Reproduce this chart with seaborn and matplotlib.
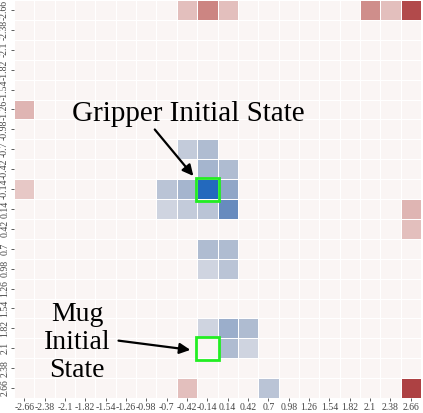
import numpy as np
import pandas as pd
import seaborn as sns
import matplotlib.pyplot as plt
from matplotlib.patches import Rectangle

# axis positions (same on x and y)
ticks = [-2.66, -2.38, -2.1, -1.82, -1.54, -1.26, -0.98, -0.7, -0.42, -0.14,
         0.14, 0.42, 0.7, 0.98, 1.26, 1.54, 1.82, 2.1, 2.38, 2.66]
tick_labels = ['-2.66', '-2.38', '-2.1', '-1.82', '-1.54', '-1.26', '-0.98', '-0.7', '-0.42', '-0.14',
               '0.14', '0.42', '0.7', '0.98', '1.26', '1.54', '1.82', '2.1', '2.38', '2.66']

# non-zero cells (y, x, value); everything else is 0
cell_y = [-2.66, -2.66, -2.66, -2.66, -2.66, -2.66,
          -1.26,
          -0.7, -0.7,
          -0.42, -0.42,
          -0.14, -0.14, -0.14, -0.14, -0.14,
          0.14, 0.14, 0.14, 0.14, 0.14,
          0.42,
          0.7, 0.7,
          0.98, 0.98,
          1.82, 1.82, 1.82,
          2.1, 2.1,
          2.66, 2.66, 2.66]
cell_x = [-0.42, -0.14, 0.14, 2.1, 2.38, 2.66,
          -2.66,
          -0.42, -0.14,
          -0.14, 0.14,
          -2.66, -0.7, -0.42, -0.14, 0.14,
          -0.7, -0.42, -0.14, 0.14, 2.66,
          2.66,
          -0.14, 0.14,
          -0.14, 0.14,
          -0.14, 0.14, 0.42,
          0.14, 0.42,
          -0.42, 0.7, 2.66]
cell_val = [0.3, 0.6, 0.3, 0.55, 0.3, 0.9,
            0.35,
            -0.3, -0.4,
            -0.45, -0.4,
            0.25, -0.35, -0.45, -1.0, -0.55,
            -0.25, -0.3, -0.35, -0.75, 0.35,
            0.3,
            -0.4, -0.4,
            -0.25, -0.35,
            -0.25, -0.5, -0.4,
            -0.4, -0.25,
            0.3, -0.35, 0.95]

gripper_start = (-0.14, -0.14)
mug_start = (-0.14, 2.1)

df = pd.DataFrame({'y': cell_y, 'x': cell_x, 'v': cell_val})
grid = df.pivot(index='y', columns='x', values='v').reindex(index=ticks, columns=ticks).fillna(0)

plt.rcParams['font.family'] = ['Liberation Serif', 'DejaVu Serif']

fig = plt.figure(figsize=(4.23, 4.13), dpi=100)
ax = fig.add_axes([14 / 423, 1 - 398 / 413, 407 / 423, 398 / 413])
sns.heatmap(grid, ax=ax, cmap='vlag', vmin=-1, vmax=1, center=0, cbar=False,
            linewidths=0.5, linecolor='white', xticklabels=tick_labels, yticklabels=tick_labels)
ax.set_xlabel('')
ax.set_ylabel('')
ax.tick_params(labelsize=7, colors='#444444', length=2, width=0.6, pad=1.5)
plt.setp(ax.get_yticklabels(), rotation=90, va='center')
plt.setp(ax.get_xticklabels(), rotation=0)

gx, gy = ticks.index(gripper_start[0]), ticks.index(gripper_start[1])
mx, my = ticks.index(mug_start[0]), ticks.index(mug_start[1])
for cx, cy in [(gx, gy), (mx, my)]:
    ax.add_patch(Rectangle((cx - 0.05, cy - 0.05), 1.1, 1.15, fill=False,
                           edgecolor='#22ee22', lw=2, zorder=5))

ax.annotate('', xy=(gx - 0.1, gy - 0.05), xytext=(6.83, 6.4),
            arrowprops=dict(arrowstyle='-|>', color='black', lw=1.6, mutation_scale=16))
ax.text(8.55, 5.75, 'Gripper Initial State', fontsize=21, ha='center', va='center')

ax.annotate('', xy=(mx - 0.2, my + 0.6), xytext=(5.0, 17.1),
            arrowprops=dict(arrowstyle='-|>', color='black', lw=1.6, mutation_scale=16))
ax.text(3.1, 17.2, 'Mug\nInitial\nState', fontsize=20, ha='center', va='center',
        linespacing=1.15)

plt.savefig('out.png', dpi=100)
